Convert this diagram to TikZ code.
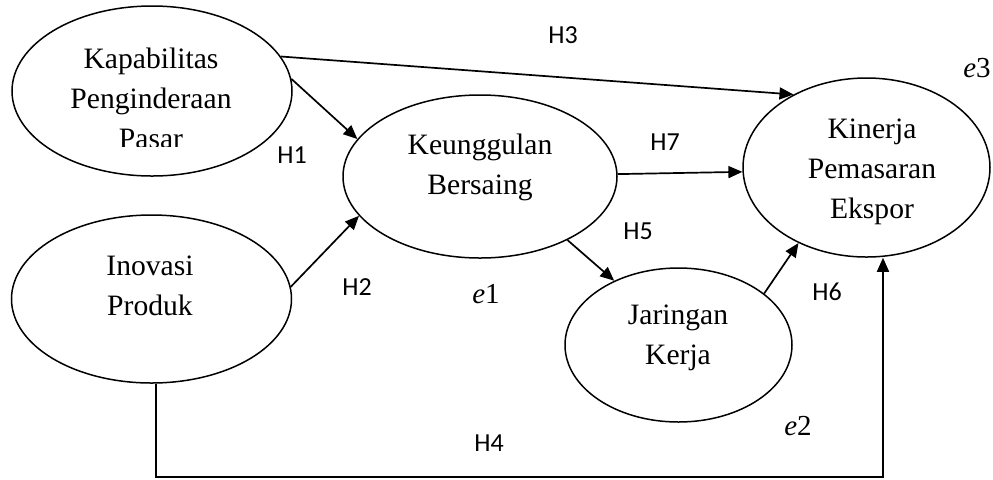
\documentclass[tikz,border=0pt]{standalone}
\usepackage{fontspec}
\setmainfont{Liberation Serif}
\newfontfamily\hfont{Carlito}
\usetikzlibrary{shapes.geometric,arrows.meta}
\begin{document}
\begin{tikzpicture}[x=0.5pt,y=-0.5pt,
  latent/.style={ellipse, draw, line width=0.75pt, inner sep=0pt},
  vname/.style={align=center, inner sep=0pt, font=\fontsize{14.8}{20}\selectfont},
  hyp/.style={inner sep=0pt, font=\hfont\fontsize{13}{15}\selectfont},
  err/.style={inner sep=0pt, font=\fontsize{14.5}{16}\selectfont},
  rel/.style={-{Triangle[length=7pt,width=6pt]}, line width=0.85pt}]
\useasboundingbox (0,0) rectangle (993,479);

% latent variables
\node[latent, minimum width=140pt, minimum height=85pt] (kp) at (152,91) {};
\node[latent, minimum width=140pt, minimum height=84pt] (ip) at (151.5,299) {};
\node[latent, minimum width=137pt, minimum height=81.5pt] (kb) at (480,176.5) {};
\node[latent, minimum width=113.5pt, minimum height=77pt] (jk) at (678.5,345) {};
\node[latent, minimum width=123.5pt, minimum height=89.5pt] (kpe) at (866.5,167.5) {};

% variable names
\begin{scope}
  \clip (0,0) rectangle (320,146);
  \node[vname] (kp-t) at (151,100) {\strut Kapabilitas\\\strut Penginderaan\\\strut Pasar};
\end{scope}
\node[vname] (ip-t) at (150,287) {\strut Inovasi\\\strut Produk};
\node[vname] (kb-t) at (480,166) {\strut Keunggulan\\\strut Bersaing};
\node[vname] (jk-t) at (678,336) {\strut Jaringan\\\strut Kerja};
\node[vname] (kpe-t) at (872,170) {\strut Kinerja\\\strut Pemasaran\\\strut Ekspor};

% hypothesised paths
\draw[rel] (kp.5.4) -- (kb.163.3);
\draw[rel] (ip.5.8) -- (kb.198.4);
\draw[rel] (kp.15.4) -- (kpe.135.8);
\draw[rel] (kb.1.9) -- (kpe.182);
\draw[rel] (kb.-36.1) -- (jk.135.7);
\draw[rel] (jk.31) -- (kpe.228.2);
\coordinate (c1) at (156,477);
\coordinate (c2) at (883,477);
\draw[rel] (c1 |- ip.south) -- (c1) -- (c2) -- (c2 |- kpe.south);

% path labels
\node[hyp] (h1) at (292,155) {H1};
\node[hyp] (h2) at (357,287) {H2};
\node[hyp] (h3) at (563,35) {H3};
\node[hyp] (h4) at (489,443) {H4};
\node[hyp] (h5) at (638,231) {H5};
\node[hyp] (h6) at (827,292) {H6};
\node[hyp] (h7) at (665,142) {H7};

% error terms
\node[err] (e1) at (486,294) {\textit{e}1};
\node[err] (e2) at (798,426) {\textit{e}2};
\node[err] (e3) at (977,68) {\textit{e}3};
\end{tikzpicture}
\end{document}
